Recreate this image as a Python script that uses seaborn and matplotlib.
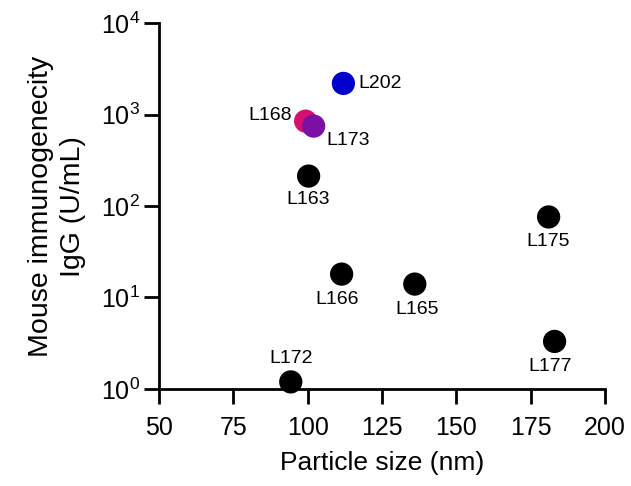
import matplotlib
matplotlib.use("Agg")
import matplotlib.pyplot as plt
import seaborn as sns
import pandas as pd

# values
lipids = ["L202", "L168", "L173", "L163", "L175", "L166", "L165", "L177", "L172"]
size_nm = [112, 99.3, 102, 100.3, 181, 111.4, 136, 183, 94.3]
igg = [2200, 850, 750, 213, 76, 18, 14, 3.3, 1.19]
colors = {"L202": "#0000CC", "L168": "#D6106E", "L173": "#7B10A3"}
# label offsets (points) and alignment
offsets = {
    "L202": (11, 0, "left", "center"),
    "L168": (-10, 4, "right", "center"),
    "L173": (9, -10, "left", "center"),
    "L163": (0, -17, "center", "center"),
    "L175": (0, -18, "center", "center"),
    "L166": (-3, -18, "center", "center"),
    "L165": (2, -18, "center", "center"),
    "L177": (-3, -18, "center", "center"),
    "L172": (0, 17, "center", "center"),
}

df = pd.DataFrame({"lipid": lipids, "size": size_nm, "igg": igg})
palette = {l: colors.get(l, "black") for l in lipids}

sns.set_style("ticks")
plt.rcParams["font.family"] = ["Liberation Sans", "DejaVu Sans"]
plt.rcParams["text.color"] = "black"
plt.rcParams["axes.labelcolor"] = "black"
plt.rcParams["xtick.color"] = "black"
plt.rcParams["ytick.color"] = "black"
plt.rcParams["mathtext.fontset"] = "custom"
plt.rcParams["mathtext.rm"] = "Liberation Sans"

fig = plt.figure(figsize=(6.31, 4.86), dpi=100)
ax = fig.add_axes([0.252, 0.200, 0.707, 0.752])

sns.scatterplot(data=df, x="size", y="igg", hue="lipid", palette=palette,
                s=280, edgecolor="none", legend=False, ax=ax, zorder=3,
                clip_on=False)

for name, x, y in zip(lipids, size_nm, igg):
    dx, dy, ha, va = offsets[name]
    ax.annotate(name, (x, y), xytext=(dx, dy), textcoords="offset points",
                ha=ha, va=va, fontsize=14)

ax.set_yscale("log")
ax.set_ylim(1, 1e4)
ax.set_xlim(50, 200)
ax.set_xticks([50, 75, 100, 125, 150, 175, 200])
ax.set_yticks([1, 10, 100, 1000, 10000])
ax.set_yticklabels([r"$\mathregular{10^{%d}}$" % i for i in range(5)])
ax.yaxis.set_minor_locator(matplotlib.ticker.NullLocator())

ax.set_xlabel("Particle size (nm)", fontsize=19, labelpad=8)
ax.set_ylabel("Mouse immunogenecity\nIgG (U/mL)", fontsize=20.5,
              labelpad=11, linespacing=1.3)
ax.tick_params(axis="both", labelsize=18, width=2, length=10.5, color="black", pad=3)
ax.tick_params(axis="x", pad=9)
for side in ["top", "right"]:
    ax.spines[side].set_visible(False)
for side in ["left", "bottom"]:
    ax.spines[side].set_linewidth(2)
    ax.spines[side].set_color("black")

fig.savefig("out.png", dpi=100)
